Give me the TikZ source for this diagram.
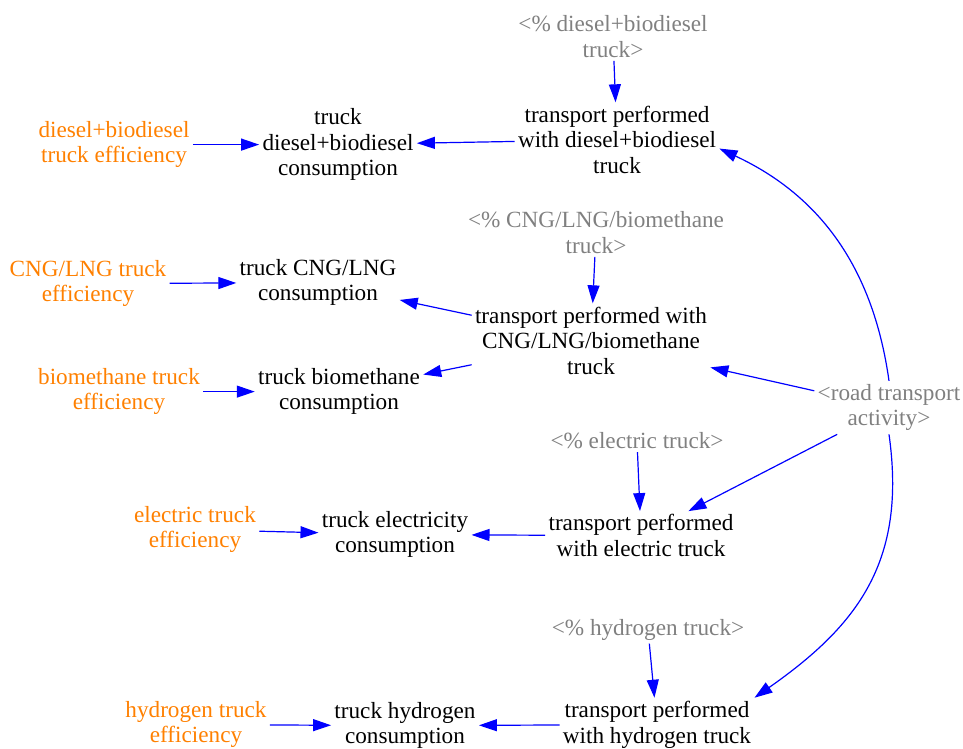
\documentclass[tikz,border=0pt]{standalone}
\usepackage{fontspec}
\setmainfont{Liberation Serif}
\usepackage{tikz}
\usetikzlibrary{arrows.meta}

\definecolor{effcol}{RGB}{255,128,0}
\definecolor{ghostcol}{RGB}{128,128,128}

\begin{document}
\begin{tikzpicture}[
    x=0.5pt, y=-0.5pt,
    >={Triangle[length=9pt,width=6pt]},
    font=\fontsize{11.6}{12.8}\selectfont,
    varnode/.style={align=center, inner sep=1.5pt, yshift=-0.8pt},
    eff/.style={varnode, text=effcol},
    ghost/.style={varnode, text=ghostcol},
    link/.style={->, draw=blue, line width=0.6pt},
  ]
    \useasboundingbox (0,0) rectangle (963,749);

    \node[ghost] (pctD) at (613,35) {<\% diesel+biodiesel\\truck>};
    \node[varnode] (tpD) at (617,138) {transport performed\\with diesel+biodiesel\\truck};
    \node[varnode] (consD) at (338,143) {truck\\diesel+biodiesel\\consumption};
    \node[eff] (effD) at (114,143) {diesel+biodiesel\\truck efficiency};

    \node[ghost] (pctC) at (596,231) {<\% CNG/LNG/biomethane\\truck>};
    \node[varnode] (tpC) at (591,339) {transport performed with\\CNG/LNG/biomethane\\truck};
    \node[varnode] (consC) at (318,281) {truck CNG/LNG\\consumption};
    \node[eff] (effC) at (88,282) {CNG/LNG truck\\efficiency};
    \node[varnode] (consB) at (339,390) {truck biomethane\\consumption};
    \node[eff] (effB) at (119,390) {biomethane truck\\efficiency};

    \node[ghost] (road) at (889,406) {<road transport\\activity>};

    \node[ghost] (pctE) at (637,439) {<\% electric truck>};
    \node[varnode] (tpE) at (641,534) {transport performed\\with electric truck};
    \node[varnode] (consE) at (395,533) {truck electricity\\consumption};
    \node[eff] (effE) at (195,528) {electric truck\\efficiency};

    \node[ghost] (pctH) at (648,628) {<\% hydrogen truck>};
    \node[varnode] (tpH) at (657,723) {transport performed\\with hydrogen truck};
    \node[varnode] (consH) at (405,724) {truck hydrogen\\consumption};
    \node[eff] (effH) at (196,723) {hydrogen truck\\efficiency};

    \foreach \a/\b in {effD/consD, tpD/consD, pctD/tpD, pctC/tpC, tpC/consC,
                       tpC/consB, effC/consC, effB/consB, road/tpC, road/tpE,
                       pctE/tpE, tpE/consE, effE/consE, pctH/tpH, tpH/consH, effH/consH}
      \draw[link] (\a) -- (\b);

    \draw[link] (road.north) to[out=98, in=-25] (tpD.-5);
    \draw[link] (road.south) to[out=-82, in=35, looseness=1.1] (tpH.north east);
  \end{tikzpicture}
\end{document}
